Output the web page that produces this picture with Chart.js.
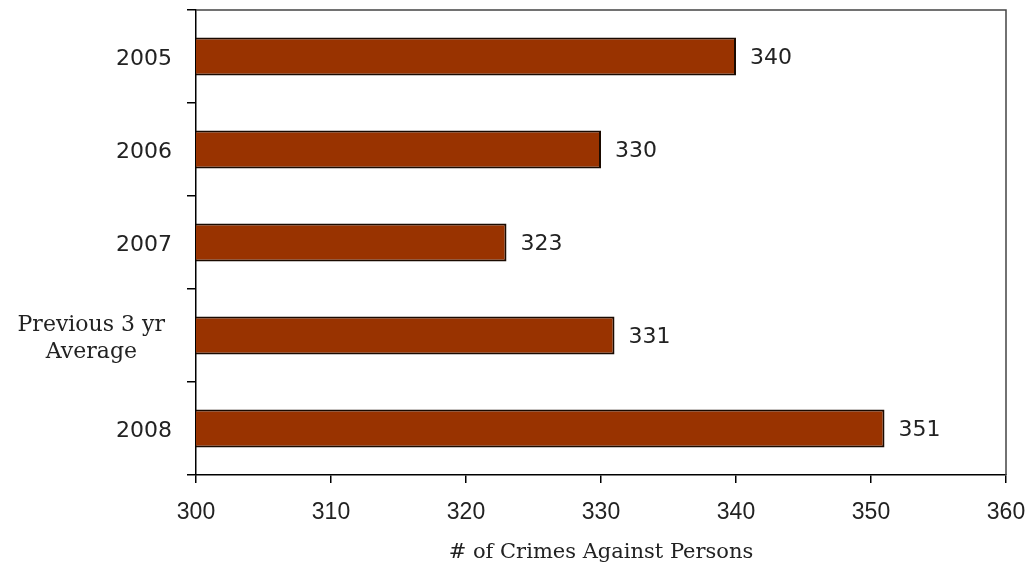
<!DOCTYPE html>
<html>
<head>
<meta charset="utf-8">
<script src="https://cdn.jsdelivr.net/npm/chart.js@4/dist/chart.umd.min.js"></script>
<style>
  body { margin: 0; background: #fff; }
</style>
</head>
<body>
<canvas id="myChart" width="1029" height="562"></canvas>
<script>
const categories = ["2005", "2006", "2007", ["Previous 3 yr ", "Average     "], "2008"];
const crimes = [340, 330, 323, 331, 351];
const xMin = 300;
const xMax = 360;
const xStep = 10;
const axisTitle = "# of Crimes Against Persons";

const textColor = "#222";
const sansFont = { family: "DejaVu Sans", size: 22 };
const serifFont = { family: "DejaVu Serif", size: 22, lineHeight: 1.22 };

// frame round the plot + value labels at bar ends
const framePlugin = {
  id: "frame",
  beforeDatasetsDraw: (chart) => {
    const { ctx, chartArea } = chart;
    ctx.save();
    ctx.strokeStyle = "#444";
    ctx.lineWidth = 1.5;
    ctx.beginPath();
    ctx.moveTo(chartArea.left, chartArea.top);
    ctx.lineTo(chartArea.right, chartArea.top);
    ctx.lineTo(chartArea.right, chartArea.bottom);
    ctx.stroke();
    ctx.restore();
  },
  afterDatasetsDraw: (chart) => {
    const { ctx } = chart;
    const meta = chart.getDatasetMeta(0);
    ctx.save();
    ctx.font = "22px 'DejaVu Sans'";
    ctx.fillStyle = textColor;
    ctx.textAlign = "left";
    ctx.textBaseline = "middle";
    meta.data.forEach((bar, i) => {
      ctx.fillText(String(crimes[i]), bar.x + 14, bar.y + 2);
    });
    ctx.restore();
  }
};

const ctx = document.getElementById("myChart").getContext("2d");
const myChart = new Chart(ctx, {
  type: "bar",
  data: {
    labels: categories,
    datasets: [{
      data: crimes,
      backgroundColor: "#993300",
      borderColor: "#1a0a00",
      borderWidth: 2,
      barPercentage: 0.41,
      categoryPercentage: 1
    }]
  },
  options: {
    indexAxis: "y",
    responsive: false,
    animation: false,
    layout: { padding: { left: 0, top: 10, right: 23, bottom: 0 } },
    plugins: {
      legend: { display: false },
      tooltip: { enabled: false }
    },
    scales: {
      x: {
        min: xMin,
        max: xMax,
        afterFit: (scale) => {
          scale.height = 87;
          scale.paddingLeft = 0;
          scale.paddingRight = 0;
        },
        ticks: {
          stepSize: xStep,
          color: textColor,
          padding: 16,
          font: { family: "Liberation Sans", size: 23 }
        },
        grid: {
          drawOnChartArea: false,
          tickLength: 8,
          color: "#000",
          lineWidth: 1.5
        },
        border: { color: "#000", width: 1.5 },
        title: {
          display: true,
          text: axisTitle,
          color: textColor,
          font: { family: "DejaVu Serif", size: 21 },
          padding: { top: 0, bottom: -3 }
        }
      },
      y: {
        afterFit: (scale) => {
          scale.width = 196;
          scale.paddingTop = 0;
          scale.paddingBottom = 0;
        },
        ticks: {
          color: textColor,
          padding: 15,
          labelOffset: 3,
          font: (c) => (c.index === 3 ? serifFont : sansFont)
        },
        grid: {
          offset: true,
          drawOnChartArea: false,
          tickLength: 9,
          color: "#000",
          lineWidth: 1.5
        },
        border: { color: "#000", width: 1.5 }
      }
    }
  },
  plugins: [framePlugin]
});
</script>
</body>
</html>
